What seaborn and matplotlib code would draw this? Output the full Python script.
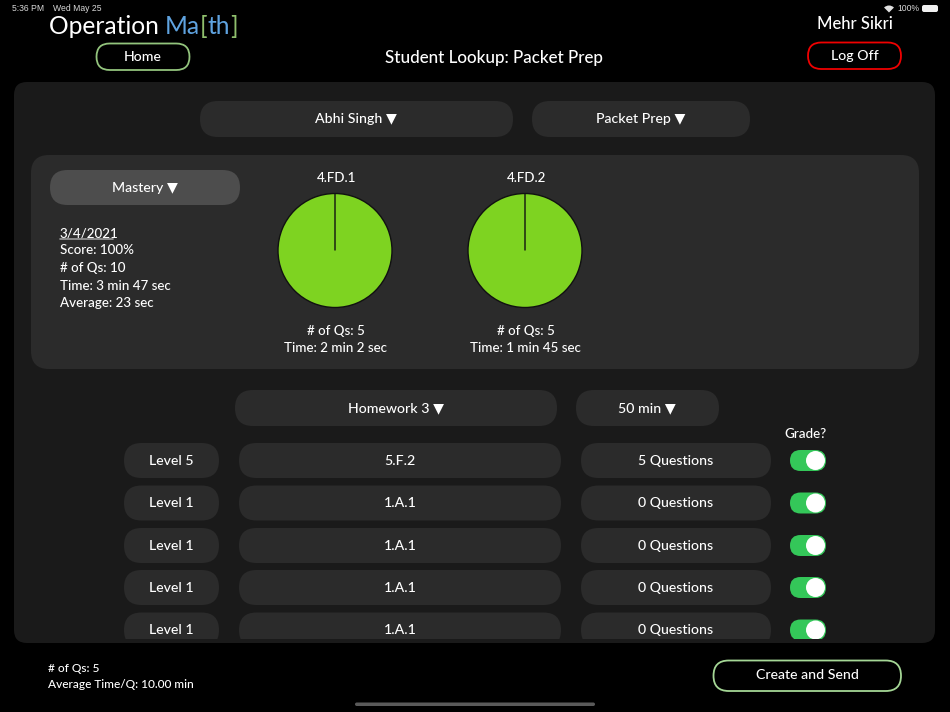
import matplotlib
matplotlib.use('Agg')
import matplotlib.pyplot as plt
from matplotlib.patches import FancyBboxPatch, Rectangle, Circle, Wedge
import seaborn as sns

sns.set_theme(style='white')
plt.rcParams['font.family'] = ['Lato', 'DejaVu Sans']
plt.rcParams['font.weight'] = 'medium'

# values shown in the screen
pie_names = ['4.FD.1', '4.FD.2']
pie_scores = [100, 100]
pie_questions = [5, 5]
pie_times = ['2 min 2 sec', '1 min 45 sec']
levels = ['Level 5', 'Level 1', 'Level 1', 'Level 1', 'Level 1']
standards = ['5.F.2', '1.A.1', '1.A.1', '1.A.1', '1.A.1']
question_counts = [5, 0, 0, 0, 0]
score_lines = ['Score: 100%', '# of Qs: 10', 'Time: 3 min 47 sec', 'Average: 23 sec']

W, H = 950, 712
fig = plt.figure(figsize=(W / 100, H / 100), dpi=100, facecolor='black')
ax = fig.add_axes([0, 0, 1, 1])
ax.set_xlim(0, W)
ax.set_ylim(H, 0)
ax.axis('off')


def pill(x0, y0, x1, y1, face='#2b2b2b', edge='none', lw=0, radius=None, clip=None, z=2):
    r = (y1 - y0) / 2 if radius is None else radius
    p = FancyBboxPatch((x0 + r, y0 + r), x1 - x0 - 2 * r, y1 - y0 - 2 * r,
                       boxstyle=f'round,pad={r},rounding_size={r}',
                       fc=face, ec=edge, lw=lw, zorder=z)
    ax.add_patch(p)
    if clip is not None:
        p.set_clip_path(clip)
    return p


def label(x, y, s, size=10.2, ha='center', color='white', **kw):
    return ax.text(x, y + 1, s, fontsize=size, ha=ha, va='center', color=color, zorder=5, **kw)


# status bar
label(12, 7.5, '5:36 PM', size=6.2, ha='left', color='#d8d8d8', family='Liberation Sans')
label(53, 7.5, 'Wed May 25', size=6.2, ha='left', color='#d8d8d8', family='Liberation Sans')
label(897, 7.5, '100%', size=6.2, ha='left', color='#d8d8d8', family='Liberation Sans')
ax.add_patch(Wedge((889, 12.5), 7, 225, 315, fc='#e0e0e0', ec='none'))
pill(922, 5, 938, 12, face='#f0f0f0', radius=2)

# header
title_kw = dict(fontsize=17.7, va='bottom', ha='left', fontweight='normal')
t = ax.text(49, 37.5, 'Operation ', color='white', **title_kw)
t = ax.annotate('Ma', xy=(1, 0), xycoords=t, color='#5fa3e0', **title_kw)
t = ax.annotate('[', xy=(1, 0), xycoords=t, color='#8fbf6d', **title_kw)
t = ax.annotate('th', xy=(1, 0), xycoords=t, color='#5fa3e0', **title_kw)
ax.annotate(']', xy=(1, 0), xycoords=t, color='#8fbf6d', **title_kw)

pill(96.5, 43.5, 189.5, 70, face='black', edge='#93c47d', lw=1.3)
label(143, 56, 'Home', size=10.2)
label(494, 56.5, 'Student Lookup: Packet Prep', size=12.25)
label(855, 23, 'Mehr Sikri', size=12)
pill(808, 42.5, 901, 69, face='black', edge='#f00000', lw=1.3)
label(855, 54.5, 'Log Off', size=10.2)

# main panel
pill(14, 82, 935, 643, face='#1a1a1a', radius=13, z=1)
pill(200, 101, 513, 137)
label(356, 118, 'Abhi Singh ▼')
pill(532, 101, 750, 137)
label(641, 118, 'Packet Prep ▼')

# mastery panel
pill(31, 155, 919, 369, face='#2b2b2b', radius=18, z=1.5)
pill(50, 170, 240, 205, face='#4d4d4d')
label(145, 187, 'Mastery ▼')
label(60, 232, '3/4/2021', ha='left', size=9.6)
ax.plot([60, 113], [239, 239], color='#9a9a9a', lw=1.2, zorder=5)
for i, line in enumerate(score_lines):
    label(60, 249.5 + i * 17.5, line, ha='left', size=9.6)

pie_centers = [335, 525]
pie_radius = 57
for name, score, nq, tm, cx in zip(pie_names, pie_scores, pie_questions, pie_times, pie_centers):
    pie_ax = fig.add_axes([(cx - pie_radius - 2) / W, 1 - (250.5 + pie_radius + 2) / H,
                           (2 * pie_radius + 4) / W, (2 * pie_radius + 4) / H])
    # the empty second slice gives the seam from the centre up to 12 o'clock
    pie_ax.pie([score, 100 - score], colors=['#7ed321'], startangle=90,
               radius=pie_radius / (pie_radius + 2),
               wedgeprops={'edgecolor': '#111111', 'linewidth': 1})
    pie_ax.set_xlim(-1, 1)
    pie_ax.set_ylim(-1, 1)
    pie_ax.set_aspect('equal')
    pie_ax.patch.set_alpha(0)
    label(cx + 1.5, 177.3, name, size=9.6)
    label(cx + 1, 330, f'# of Qs: {nq}', size=9.6)
    label(cx, 347, f'Time: {tm}', size=9.6)

# homework rows
pill(235, 390, 557, 426)
label(396, 407, 'Homework 3 ▼')
pill(576, 390, 719, 426)
label(647, 407, '50 min ▼')
label(805.5, 433, 'Grade?', size=9.6)

list_clip = Rectangle((0, 0), W, 639, transform=ax.transData)
row_centers = [460.5, 503, 545.5, 587.5, 630]
for lv, std, qc, yc in zip(levels, standards, question_counts, row_centers):
    pill(124, yc - 17.5, 219, yc + 17.5, clip=list_clip)
    pill(239, yc - 17.5, 561, yc + 17.5, clip=list_clip)
    pill(581, yc - 17.5, 771, yc + 17.5, clip=list_clip)
    label(171, yc - 0.7, lv)
    label(400, yc - 0.7, std)
    label(676, yc - 0.7, f'{qc} Questions')
    pill(790, yc - 10.5, 826, yc + 10.5, face='#34c759', clip=list_clip, z=3)
    knob = Circle((815.5, yc), 9.5, fc='white', ec='none', zorder=4)
    ax.add_patch(knob)
    knob.set_clip_path(list_clip)

# footer
label(48, 667, '# of Qs: 5', ha='left', size=8.6)
label(48, 683, 'Average Time/Q: 10.00 min', ha='left', size=8.6)
pill(713.5, 660.5, 901, 691, face='black', edge='#a5d796', lw=1.3)
label(807, 674, 'Create and Send', size=10.2)
pill(355, 702.5, 595, 706, face='#5a5a5a')

fig.savefig('out.png', dpi=100, facecolor='black')
